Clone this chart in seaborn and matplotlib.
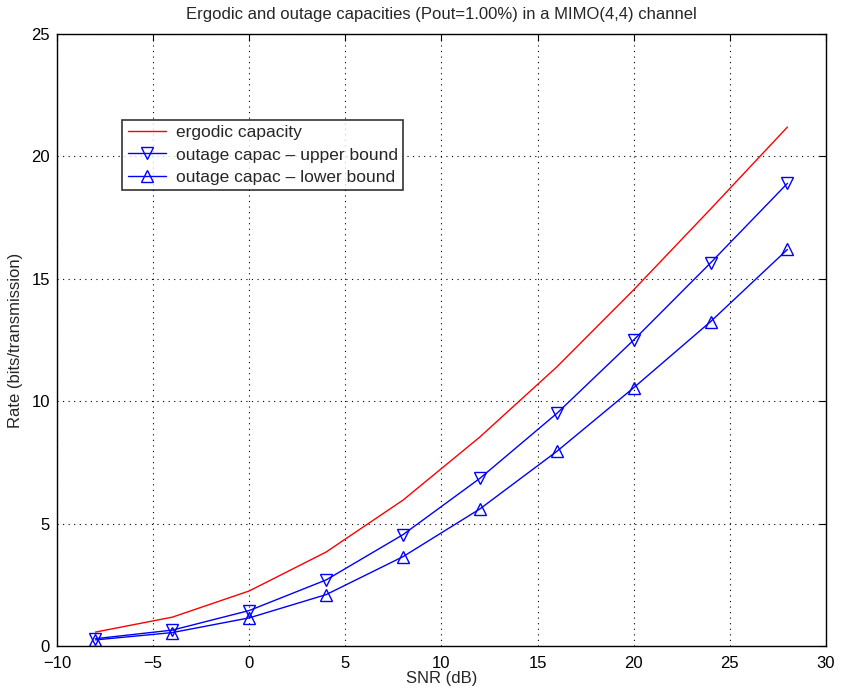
import numpy as np
import pandas as pd
import matplotlib
matplotlib.use("Agg")
import matplotlib.pyplot as plt
import seaborn as sns

# SNR points (dB)
snr = [-8, -4, 0, 4, 8, 12, 16, 20, 24, 28]
ergodic = [0.57, 1.18, 2.25, 3.84, 5.96, 8.54, 11.4, 14.55, 17.85, 21.2]
upper = [0.30, 0.65, 1.45, 2.70, 4.55, 6.85, 9.50, 12.50, 15.65, 18.90]
lower = [0.25, 0.55, 1.15, 2.10, 3.65, 5.60, 7.95, 10.55, 13.25, 16.20]

sns.set_style("white")
plt.rcParams['font.family'] = ['Liberation Sans', 'DejaVu Sans']

fig = plt.figure(figsize=(8.41, 6.96), dpi=100)
ax = fig.add_axes([0.0678, 0.0718, 0.9142, 0.8793])

df = pd.DataFrame({'snr': snr, 'ergodic': ergodic, 'upper': upper, 'lower': lower})

sns.lineplot(data=df, x='snr', y='ergodic', ax=ax, color='#ff0000', lw=1,
             label='ergodic capacity')
sns.lineplot(data=df, x='snr', y='upper', ax=ax, color='#0000ff', lw=1,
             marker='v', markersize=8.5, markerfacecolor='none',
             markeredgecolor='#0000ff', markeredgewidth=1,
             label='outage capac \u2013 upper bound')
sns.lineplot(data=df, x='snr', y='lower', ax=ax, color='#0000ff', lw=1,
             marker='^', markersize=8.5, markerfacecolor='none',
             markeredgecolor='#0000ff', markeredgewidth=1,
             label='outage capac \u2013 lower bound')

ax.set_xlim(-10, 30)
ax.set_ylim(0, 25)
ax.set_xticks(range(-10, 31, 5))
ax.set_yticks(range(0, 26, 5))
ax.set_xticklabels(['\u221210', '\u22125', '0', '5', '10', '15', '20', '25', '30'])
ax.grid(True, linestyle=(0, (1, 4)), color='black', lw=0.8)
ax.tick_params(direction='in', length=5, top=True, right=True, labelsize=12,
               colors='black')
ax.tick_params(axis='x', pad=7)
ax.tick_params(axis='y', pad=5)
for s in ax.spines.values():
    s.set_color('black')
    s.set_linewidth(1)

ax.set_xlabel('SNR (dB)', fontsize=12, labelpad=0)
ax.set_ylabel('Rate (bits/transmission)', fontsize=12, labelpad=6)
ax.set_title('Ergodic and outage capacities (Pout=1.00%) in a MIMO(4,4) channel',
             fontsize=12, pad=11)

leg = ax.legend(loc='upper left', bbox_to_anchor=(0.085, 0.86), fontsize=12.5,
                frameon=True, fancybox=False, borderpad=0.3, labelspacing=0.42,
                handlelength=2.2, handletextpad=0.6, borderaxespad=0)
leg.get_frame().set_edgecolor('black')
leg.get_frame().set_linewidth(1.2)

fig.savefig('out.png', dpi=100)
